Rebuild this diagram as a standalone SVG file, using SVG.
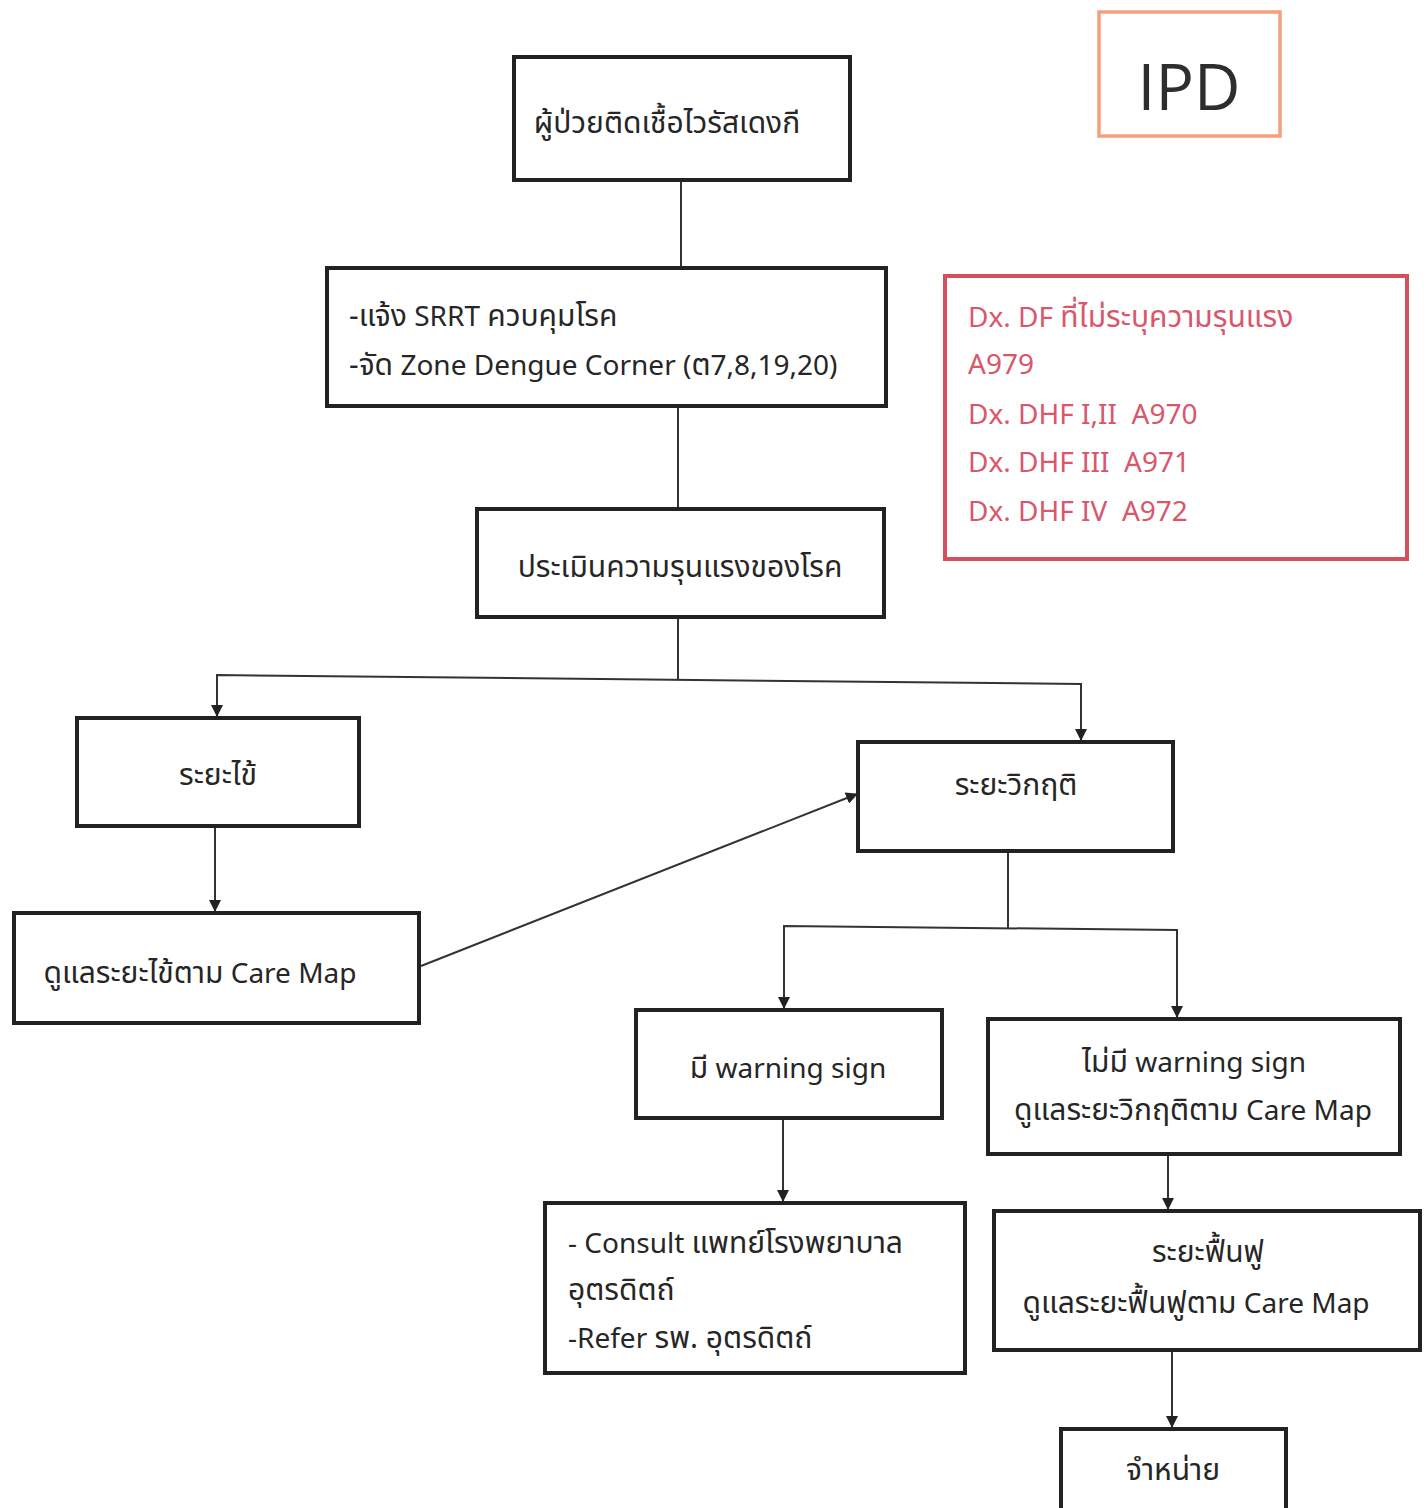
<svg xmlns="http://www.w3.org/2000/svg" width="1426" height="1508" viewBox="0 0 1426 1508">
<style>
.box{fill:#fff;stroke:#222;stroke-width:4}
.t{font-family:"Noto Sans","Noto Sans Thai","DejaVu Sans","Liberation Sans",sans-serif;font-size:28px;fill:#262626}
.th{font-size:30px}
.c{text-anchor:middle}
.red{fill:#d9566b}
.ln{fill:none;stroke:#333;stroke-width:2}
</style>
<defs>
<marker id="ah" viewBox="0 0 12 12" refX="11" refY="6" markerWidth="12" markerHeight="12" markerUnits="userSpaceOnUse" orient="auto">
<path d="M0,0 L12,6 L0,12 z" fill="#222"/>
</marker>
</defs>
<rect width="1426" height="1508" fill="#fff"/>
<g id="connectors">
<line class="ln" x1="681" y1="180" x2="681" y2="267"/>
<line class="ln" x1="678" y1="406" x2="678" y2="509"/>
<line class="ln" x1="678" y1="617" x2="678" y2="679"/>
<polyline class="ln" points="217,716 217,675 1081,684 1081,740" marker-end="url(#ah)"/>
<line class="ln" x1="217" y1="680" x2="217" y2="716" marker-end="url(#ah)"/>
<line class="ln" x1="215" y1="826" x2="215" y2="911" marker-end="url(#ah)"/>
<line class="ln" x1="421" y1="966" x2="857" y2="794" marker-end="url(#ah)"/>
<line class="ln" x1="1008" y1="851" x2="1008" y2="928"/>
<polyline class="ln" points="784,1008 784,926 1177,930 1177,1017" marker-end="url(#ah)"/>
<line class="ln" x1="784" y1="960" x2="784" y2="1008" marker-end="url(#ah)"/>
<line class="ln" x1="783" y1="1118" x2="783" y2="1201" marker-end="url(#ah)"/>
<line class="ln" x1="1168" y1="1154" x2="1168" y2="1209" marker-end="url(#ah)"/>
<line class="ln" x1="1172" y1="1350" x2="1172" y2="1427" marker-end="url(#ah)"/>
</g>
<g id="ipd">
<rect x="1099" y="12" width="181" height="124" fill="#fff" stroke="#f4a07a" stroke-width="3.5"/>
<text x="1189" y="110" font-family="'Open Sans','Noto Sans',sans-serif" font-size="64" fill="#2e2e2e" text-anchor="middle">IPD</text>
</g>
<g id="dx">
<rect x="945" y="276" width="462" height="283" fill="#fff" stroke="#d4505f" stroke-width="4"/>
<text class="t red" x="968" y="327">Dx. DF <tspan class="th">ที่ไม่ระบุความรุนแรง</tspan></text>
<text class="t red" x="968" y="374">A979</text>
<text class="t red" x="968" y="424" xml:space="preserve">Dx. DHF I,II  A970</text>
<text class="t red" x="968" y="472" xml:space="preserve">Dx. DHF III  A971</text>
<text class="t red" x="968" y="521" xml:space="preserve">Dx. DHF IV  A972</text>
</g>
<g id="n1">
<rect class="box" x="514" y="57" width="336" height="123"/>
<text class="t th c" x="667" y="133">ผู้ป่วยติดเชื้อไวรัสเดงกี</text>
</g>
<g id="n2">
<rect class="box" x="327" y="268" width="559" height="138"/>
<text class="t" x="349" y="326"><tspan class="th">-แจ้ง</tspan> SRRT <tspan class="th">ควบคุมโรค</tspan></text>
<text class="t" x="349" y="375"><tspan class="th">-จัด</tspan> Zone Dengue Corner (<tspan class="th">ต</tspan>7,8,19,20)</text>
</g>
<g id="n3">
<rect class="box" x="477" y="509" width="407" height="108"/>
<text class="t th c" x="680" y="577">ประเมินความรุนแรงของโรค</text>
</g>
<g id="n4">
<rect class="box" x="77" y="718" width="282" height="108"/>
<text class="t th c" x="218" y="785">ระยะไข้</text>
</g>
<g id="n5">
<rect class="box" x="14" y="913" width="405" height="110"/>
<text class="t c" x="200" y="983"><tspan class="th">ดูแลระยะไข้ตาม</tspan> Care Map</text>
</g>
<g id="n6">
<rect class="box" x="858" y="742" width="315" height="109"/>
<text class="t th c" x="1016" y="795">ระยะวิกฤติ</text>
</g>
<g id="n7">
<rect class="box" x="636" y="1010" width="306" height="108"/>
<text class="t c" x="788" y="1078"><tspan class="th">มี</tspan> warning sign</text>
</g>
<g id="n8">
<rect class="box" x="988" y="1019" width="412" height="135"/>
<text class="t c" x="1194" y="1072"><tspan class="th">ไม่มี</tspan> warning sign</text>
<text class="t c" x="1193" y="1120"><tspan class="th">ดูแลระยะวิกฤติตาม</tspan> Care Map</text>
</g>
<g id="n9">
<rect class="box" x="545" y="1203" width="420" height="170"/>
<text class="t" x="568" y="1253">- Consult <tspan class="th">แพทย์โรงพยาบาล</tspan></text>
<text class="t th" x="568" y="1300">อุตรดิตถ์</text>
<text class="t" x="568" y="1348">-Refer <tspan class="th">รพ. อุตรดิตถ์</tspan></text>
</g>
<g id="n10">
<rect class="box" x="994" y="1211" width="426" height="139"/>
<text class="t th c" x="1208" y="1262">ระยะฟื้นฟู</text>
<text class="t c" x="1196" y="1313"><tspan class="th">ดูแลระยะฟื้นฟูตาม</tspan> Care Map</text>
</g>
<g id="n11">
<rect class="box" x="1061" y="1429" width="225" height="90"/>
<text class="t th c" x="1173" y="1480">จำหน่าย</text>
</g>
</svg>
